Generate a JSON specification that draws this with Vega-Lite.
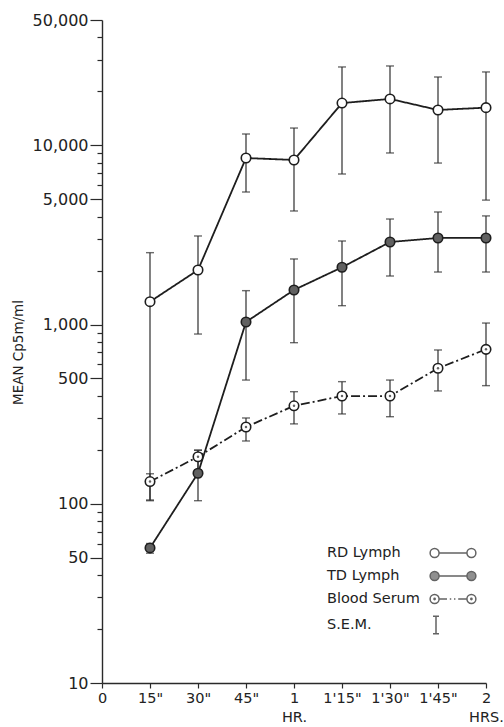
{
  "$schema": "https://vega.github.io/schema/vega-lite/v6.json",
  "autosize": {"type": "none"},
  "padding": {"left": 102, "top": 20, "right": 18, "bottom": 44},
  "width": 384,
  "height": 663,
  "background": "#ffffff",
  "config": {
    "view": {"stroke": null},
    "font": "DejaVu Sans",
    "axis": {"domainColor": "#2a2a2a", "tickColor": "#2a2a2a", "labelColor": "#222", "titleColor": "#222", "grid": false, "domainWidth": 1.4, "tickWidth": 1.2, "labelFont": "DejaVu Sans", "titleFont": "DejaVu Sans", "titleFontWeight": "normal"}
  },
  "data": {
    "values": [
      {"series": "RD Lymph", "t": 15, "mean": 1341, "lo": 105, "hi": 2517},
      {"series": "RD Lymph", "t": 30, "mean": 2014, "lo": 885, "hi": 3119},
      {"series": "RD Lymph", "t": 45, "mean": 8492, "lo": 5487, "hi": 11560},
      {"series": "RD Lymph", "t": 60, "mean": 8279, "lo": 4300, "hi": 12480},
      {"series": "RD Lymph", "t": 75, "mean": 17200, "lo": 6915, "hi": 27350},
      {"series": "RD Lymph", "t": 90, "mean": 18140, "lo": 9060, "hi": 27700},
      {"series": "RD Lymph", "t": 105, "mean": 15740, "lo": 7960, "hi": 24040},
      {"series": "RD Lymph", "t": 120, "mean": 16220, "lo": 4945, "hi": 25650},
      {"series": "TD Lymph", "t": 15, "mean": 56.7, "lo": 53, "hi": 60},
      {"series": "TD Lymph", "t": 30, "mean": 148, "lo": 104, "hi": 199},
      {"series": "TD Lymph", "t": 45, "mean": 1033, "lo": 490, "hi": 1545},
      {"series": "TD Lymph", "t": 60, "mean": 1559, "lo": 792, "hi": 2321},
      {"series": "TD Lymph", "t": 75, "mean": 2086, "lo": 1274, "hi": 2924},
      {"series": "TD Lymph", "t": 90, "mean": 2886, "lo": 1865, "hi": 3878},
      {"series": "TD Lymph", "t": 105, "mean": 3040, "lo": 1963, "hi": 4245},
      {"series": "TD Lymph", "t": 120, "mean": 3040, "lo": 1963, "hi": 4036},
      {"series": "Blood Serum", "t": 15, "mean": 133, "lo": 104, "hi": 147},
      {"series": "Blood Serum", "t": 30, "mean": 183, "lo": 154, "hi": 199},
      {"series": "Blood Serum", "t": 45, "mean": 268, "lo": 224, "hi": 301},
      {"series": "Blood Serum", "t": 60, "mean": 352, "lo": 279, "hi": 422},
      {"series": "Blood Serum", "t": 75, "mean": 399, "lo": 317, "hi": 480},
      {"series": "Blood Serum", "t": 90, "mean": 399, "lo": 306, "hi": 490},
      {"series": "Blood Serum", "t": 105, "mean": 570, "lo": 426, "hi": 721},
      {"series": "Blood Serum", "t": 120, "mean": 727, "lo": 456, "hi": 1019}
    ]
  },
  "encoding": {
    "x": {
      "field": "t", "type": "quantitative",
      "scale": {"domain": [0, 120], "nice": false, "zero": false},
      "axis": {
        "title": null,
        "values": [0, 15, 30, 45, 60, 75, 90, 105, 120],
        "labelExpr": "datum.value == 0 ? '0' : datum.value == 15 ? '15\"' : datum.value == 30 ? '30\"' : datum.value == 45 ? '45\"' : datum.value == 60 ? ['1', 'HR.'] : datum.value == 75 ? '1\\'15\"' : datum.value == 90 ? '1\\'30\"' : datum.value == 105 ? '1\\'45\"' : ['2', 'HRS.']",
        "tickSize": 5,
        "labelPadding": 3,
        "labelFontSize": 14.5,
        "labelLineHeight": 19,
        "labelOverlap": false,
        "labelFlush": false
      }
    },
    "y": {
      "field": "mean", "type": "quantitative",
      "scale": {"type": "log", "domain": [10, 50000], "nice": false, "zero": false},
      "axis": {
        "title": "MEAN Cp5m/ml",
        "titleFontSize": 13.5,
        "titleX": -84,
        "titleY": 332,
        "titleAngle": -90,
        "titleAlign": "center",
        "titleBaseline": "middle",
        "values": [10, 20, 30, 40, 50, 60, 70, 80, 90, 100, 200, 300, 400, 500, 600, 700, 800, 900, 1000, 2000, 3000, 4000, 5000, 6000, 7000, 8000, 9000, 10000, 20000, 30000, 40000, 50000],
        "labelExpr": "indexof([10, 50, 100, 500, 1000, 5000, 10000, 50000], datum.value) >= 0 ? format(datum.value, ',') : ''",
        "tickSize": {"condition": {"test": "indexof([10, 50, 100, 500, 1000, 5000, 10000, 50000], datum.value) >= 0", "value": 12}, "value": 5},
        "labelPadding": 2,
        "labelFontSize": 16,
        "labelOverlap": false,
        "labelFlush": false
      }
    }
  },
  "layer": [
    {
      "mark": {"type": "line", "stroke": "#1e1e1e", "strokeWidth": 1.8},
      "encoding": {
        "detail": {"field": "series"},
        "strokeDash": {
          "field": "series", "type": "nominal", "legend": null,
          "scale": {"domain": ["RD Lymph", "TD Lymph", "Blood Serum"], "range": [[1, 0], [1, 0], [9, 3, 2, 3]]}
        }
      }
    },
    {
      "mark": {"type": "rule", "stroke": "#2e2e2e", "strokeWidth": 1.2},
      "encoding": {"y": {"field": "lo", "type": "quantitative"}, "y2": {"field": "hi"}}
    },
    {
      "mark": {"type": "tick", "orient": "horizontal", "size": 8, "thickness": 1.4, "color": "#2e2e2e"},
      "encoding": {"y": {"field": "lo", "type": "quantitative"}}
    },
    {
      "mark": {"type": "tick", "orient": "horizontal", "size": 8, "thickness": 1.4, "color": "#2e2e2e"},
      "encoding": {"y": {"field": "hi", "type": "quantitative"}}
    },
    {
      "mark": {"type": "point", "shape": "circle", "filled": true, "size": 90, "stroke": "#1e1e1e", "strokeWidth": 1.6, "opacity": 1},
      "encoding": {
        "fill": {
          "field": "series", "type": "nominal",
          "scale": {"domain": ["RD Lymph", "TD Lymph", "Blood Serum", "S.E.M."], "range": ["#ffffff", "#616161", "#ffffff", "#ffffff"]},
          "legend": {
            "title": null,
            "orient": "none",
            "legendX": 342,
            "legendY": 524,
            "labelFont": "DejaVu Sans",
            "labelFontSize": 14.5,
            "labelColor": "#222",
            "labelAlign": "left",
            "labelOffset": -135,
            "symbolSize": 256,
            "symbolStrokeColor": "#222",
            "symbolStrokeWidth": 1.5,
            "symbolOpacity": 1,
            "rowPadding": 6
          }
        }
      }
    },
    {
      "transform": [{"filter": "datum.series == 'Blood Serum'"}],
      "mark": {"type": "point", "shape": "circle", "filled": true, "size": 6, "fill": "#222", "strokeWidth": 0}
    },
    {
      "transform": [{"filter": "datum.series == 'none'"}],
      "mark": {"type": "point", "filled": true, "stroke": "#222", "strokeWidth": 1.5},
      "encoding": {
        "fill": {"field": "series", "type": "nominal"},
        "shape": {
          "field": "series", "type": "nominal",
          "scale": {
            "domain": ["RD Lymph", "TD Lymph", "Blood Serum", "S.E.M."],
            "range": [
              "M-2.86,0A0.56,0.56,0,1,1,-1.74,0A0.56,0.56,0,1,1,-2.86,0ZM-1.74,0L1.74,0M1.74,0A0.56,0.56,0,1,1,2.86,0A0.56,0.56,0,1,1,1.74,0Z",
              "M-2.86,0A0.56,0.56,0,1,1,-1.74,0A0.56,0.56,0,1,1,-2.86,0ZM-1.74,0L1.74,0M1.74,0A0.56,0.56,0,1,1,2.86,0A0.56,0.56,0,1,1,1.74,0Z",
              "M-2.86,0A0.56,0.56,0,1,1,-1.74,0A0.56,0.56,0,1,1,-2.86,0ZM-2.38,0A0.08,0.08,0,1,1,-2.22,0A0.08,0.08,0,1,1,-2.38,0ZM-1.74,0L-0.75,0M-0.4,0L-0.22,0M0.12,0L0.3,0M0.65,0L1.74,0M1.74,0A0.56,0.56,0,1,1,2.86,0A0.56,0.56,0,1,1,1.74,0ZM2.22,0A0.08,0.08,0,1,1,2.38,0A0.08,0.08,0,1,1,2.22,0Z",
              "M-2.5,-1.1L-1.75,-1.1M-2.125,-1.1L-2.125,1.1M-2.5,1.1L-1.75,1.1"
            ]
          }
        }
      }
    }
  ]
}
